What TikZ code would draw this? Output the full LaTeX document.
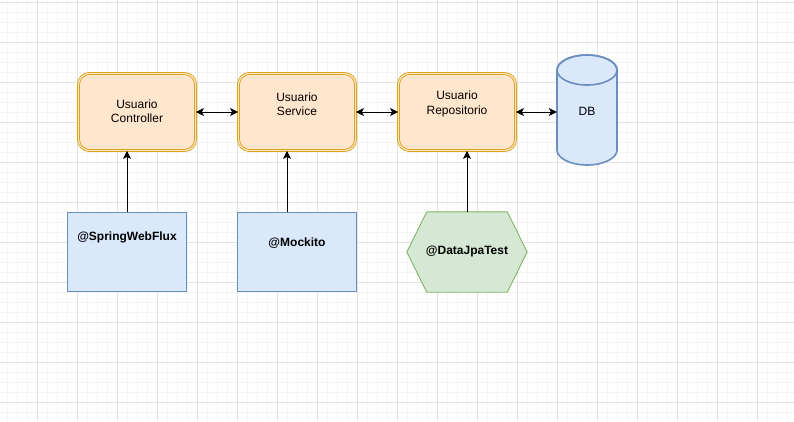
\documentclass[tikz,border=0pt]{standalone}
\usepackage{fontspec}
\setmainfont{Liberation Sans}
\usetikzlibrary{arrows.meta,calc}
\definecolor{orgstroke}{HTML}{D79B00}
\definecolor{orgfill}{HTML}{FFE6CC}
\definecolor{bluestroke}{HTML}{6C8EBF}
\definecolor{bluefill}{HTML}{DAE8FC}
\definecolor{grnstroke}{HTML}{82B366}
\definecolor{grnfill}{HTML}{D5E8D4}
\definecolor{gridmajor}{HTML}{E2E2E2}
\definecolor{gridminor}{HTML}{F4F4F4}
\tikzset{
  compbox/.style={draw=orgstroke, line width=0.8pt, double=orgfill, double distance=1.2pt,
    fill=orgfill, rounded corners=11pt, minimum width=117pt, minimum height=77pt, inner sep=0pt},
  testbox/.style={draw=bluestroke, line width=0.9pt, fill=bluefill, minimum width=119pt,
    minimum height=79pt, inner sep=0pt},
  ghost/.style={minimum width=120pt, minimum height=80pt, inner sep=0pt},
  lbl/.style={align=center, font=\fontsize{12}{14.5}\selectfont, inner sep=0pt},
  blbl/.style={align=center, font=\fontsize{12}{14}\selectfont\bfseries, inner sep=0pt},
  arr/.style={line width=1pt, -{Stealth[length=8pt,width=8pt,inset=2pt]}},
  darr/.style={line width=1pt, {Stealth[length=8pt,width=8pt,inset=2pt]}-{Stealth[length=8pt,width=8pt,inset=2pt]}}
}
\begin{document}
\begin{tikzpicture}[x=1pt,y=-1pt]
\useasboundingbox (0,0) rectangle (794,421);
\fill[white] (0,0) rectangle (794,421);
% grid
\foreach \gx in {7,17,...,787} \draw[gridminor, line width=0.8pt] (\gx,0) -- (\gx,421);
\foreach \gy in {2,12,...,412} \draw[gridminor, line width=0.8pt] (0,\gy) -- (794,\gy);
\foreach \gx in {37,77,...,757} \draw[gridmajor, line width=0.8pt] (\gx,0) -- (\gx,421);
\foreach \gy in {2,42,...,402} \draw[gridmajor, line width=0.8pt] (0,\gy) -- (794,\gy);

% component boxes
\node[compbox] (ctrl) at (137,112) {};
\node[compbox] (svc) at (297,112) {};
\node[compbox] (repo) at (457,112) {};
\node[lbl] (ctrlt) at (137,111) {Usuario\\Controller};
\node[lbl] (svct) at (297,104) {Usuario\\Service};
\node[lbl] (repot) at (457,104) {Usuario\\Repositorio};

% database cylinder
\node[minimum width=60pt, minimum height=110pt, inner sep=0pt] (db) at (587,110) {};
\filldraw[draw=bluestroke, fill=bluefill, line width=1.6pt]
  (557,70) -- (557,150) arc[start angle=180, end angle=0, x radius=30, y radius=15]
  -- (617,70) arc[start angle=0, end angle=-180, x radius=30, y radius=15] -- cycle;
\draw[bluestroke, line width=1.6pt] (587,70) ellipse[x radius=30, y radius=15];
\node[lbl] (dbt) at (587,111) {DB};

% test boxes
\node[testbox] (wf) at (127,252) {};
\node[testbox] (mock) at (297,252) {};
\node[blbl] (wft) at (127,237) {@SpringWebFlux};
\node[blbl] (mockt) at (297,243) {@Mockito};
\node[ghost] (jpa) at (467,252) {};
\filldraw[draw=grnstroke, fill=grnfill, line width=0.9pt]
  (jpa.west) -- ($(jpa.north west)+(20,0)$) -- ($(jpa.north east)+(-20,0)$)
  -- (jpa.east) -- ($(jpa.south east)+(-20,0)$) -- ($(jpa.south west)+(20,0)$) -- cycle;
\node[blbl] (jpat) at (467,251) {@DataJpaTest};

% connectors
\draw[darr] (ctrl.east) -- (svc.west);
\draw[darr] (svc.east) -- (repo.west);
\draw[darr] (repo.east) -- (repo.east -| db.west);
\draw[arr] (wf.north) -- (wf.north |- ctrl.south);
\coordinate (mockup) at ($(mock.north)+(-10,0)$);
\draw[arr] (mockup) -- (mockup |- svc.south);
\draw[arr] (jpa.north) -- (jpa.north |- repo.south);
\end{tikzpicture}
\end{document}
